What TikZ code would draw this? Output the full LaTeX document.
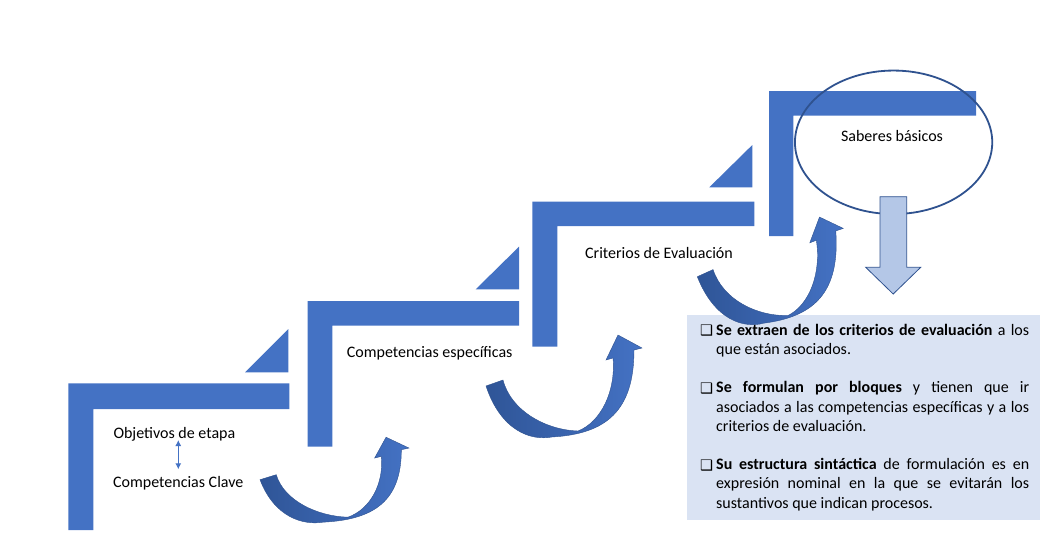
\documentclass[tikz,border=0pt]{standalone}
\usepackage{fontspec}
\setmainfont{Carlito}
\newfontfamily\dejavu{DejaVu Sans}
\usetikzlibrary{shapes.geometric,arrows.meta}
\definecolor{stairblue}{HTML}{4472C4}
\definecolor{arrowdark}{HTML}{2F5597}
\definecolor{edgeblue}{HTML}{2F528F}
\definecolor{boxfill}{HTML}{DAE3F3}
\definecolor{downfill}{HTML}{B4C7E7}
\newcommand\bitem{\noindent\hangindent=16pt\hangafter=1\makebox[16pt][l]{\raisebox{-0.5pt}{\dejavu\fontsize{14.5}{14.5}\selectfont ❑}}}
\begin{document}
\begin{tikzpicture}[x=1pt,y=-1pt,
  stair/.style={fill=stairblue},
  lbl/.style={inner sep=0pt, anchor=base west, font=\fontsize{16}{19.2}\selectfont},
  dbl/.style={{Latex[length=6pt,width=6pt]}-{Latex[length=6pt,width=6pt]}, stairblue, line width=1pt},
  carrow/.style={left color=arrowdark, right color=stairblue, draw=edgeblue, line width=0.4pt},
  curvarrow/.pic={\path[carrow] (0,0) .. controls (15,45) and (45,55) .. (66,51)
      .. controls (120,48) and (148,25) .. (148,-36) -- (156,-38) -- (132,-51) -- (120,-26) -- (127,-28)
      .. controls (130,5) and (115,36) .. (92,45) .. controls (60,44) and (25,25) .. (17,-6) -- cycle;}
]
\useasboundingbox (0,0) rectangle (1061,541);

% text box background
\node[fill=boxfill, inner sep=0pt, minimum width=353.3pt, minimum height=204.3pt, anchor=north west] (box) at (686.7,315) {};

% stairs
\fill[stair] (68.3,383.3) -- (289.3,383.3) -- (289.3,409) -- (93.3,409) -- (93.3,530) -- (68.3,530) -- cycle;
\fill[stair] (307.7,301) -- (519,301) -- (519,325.7) -- (332.3,325.7) -- (332.3,446.7) -- (307.7,446.7) -- cycle;
\fill[stair] (532.3,201.7) -- (754.3,201.7) -- (754.3,226) -- (557.3,226) -- (557.3,346.7) -- (532.3,346.7) -- cycle;
\fill[stair] (769,91) -- (976,91) -- (976,115.7) -- (793.3,115.7) -- (793.3,236) -- (769,236) -- cycle;

% triangles
\fill[stair] (245,372.3) -- (288.3,372.3) -- (288.3,329) -- cycle;
\fill[stair] (475.7,289.3) -- (519,289.3) -- (519,246.7) -- cycle;
\fill[stair] (709.3,187.3) -- (752.3,187.3) -- (752.3,145) -- cycle;

% curved arrows
\pic[xscale=0.955, yscale=0.833] at (260,479.7) {curvarrow};
\pic at (486,386) {curvarrow};
\pic[rotate=4, xscale=0.955] at (697.3,276.7) {curvarrow};

% ellipse
\node[draw=edgeblue, line width=1.8pt, ellipse, minimum width=197.3pt, minimum height=143.5pt, inner sep=0pt] (ell) at (893.6,142.3) {};

% down arrow
\draw[fill=downfill, draw=edgeblue, line width=0.8pt] (880,196.7) -- (906.7,196.7) -- (906.7,267.3) -- (920.7,267.3) -- (893.2,294) -- (865.7,267.3) -- (880,267.3) -- cycle;

% labels
\node[lbl] (obj) at (113.3,438.3) {Objetivos de etapa};
\node[lbl] (clave) at (113,487.3) {Competencias Clave};
\node[lbl] (esp) at (346.7,357.7) {Competencias específicas};
\node[lbl] (crit) at (585,258.7) {Criterios de Evaluación};
\node[lbl, anchor=base] (sab) at (892,141) {Saberes básicos};

\draw[dbl] ([yshift=-1.7pt]obj.base -| clave.base) -- ([yshift=18pt]clave.base);

% box text
\node[anchor=north west, inner sep=0pt, text width=329pt, align=justify, font=\fontsize{16}{19.2}\selectfont] (boxtext) at (700,322) {%
\bitem\rule{0pt}{13pt}\textbf{Se extraen de los criterios de evaluación} a los\linebreak que están asociados.\par
\vspace{19.2pt}
\bitem\textbf{Se formulan por bloques} y tienen que ir\linebreak asociados a las competencias específicas y a los\linebreak criterios de evaluación.\par
\vspace{19.2pt}
\bitem\textbf{Su estructura sintáctica} de formulación es en\linebreak expresión nominal en la que se evitarán los\linebreak sustantivos que indican procesos.\par};
\end{tikzpicture}
\end{document}
